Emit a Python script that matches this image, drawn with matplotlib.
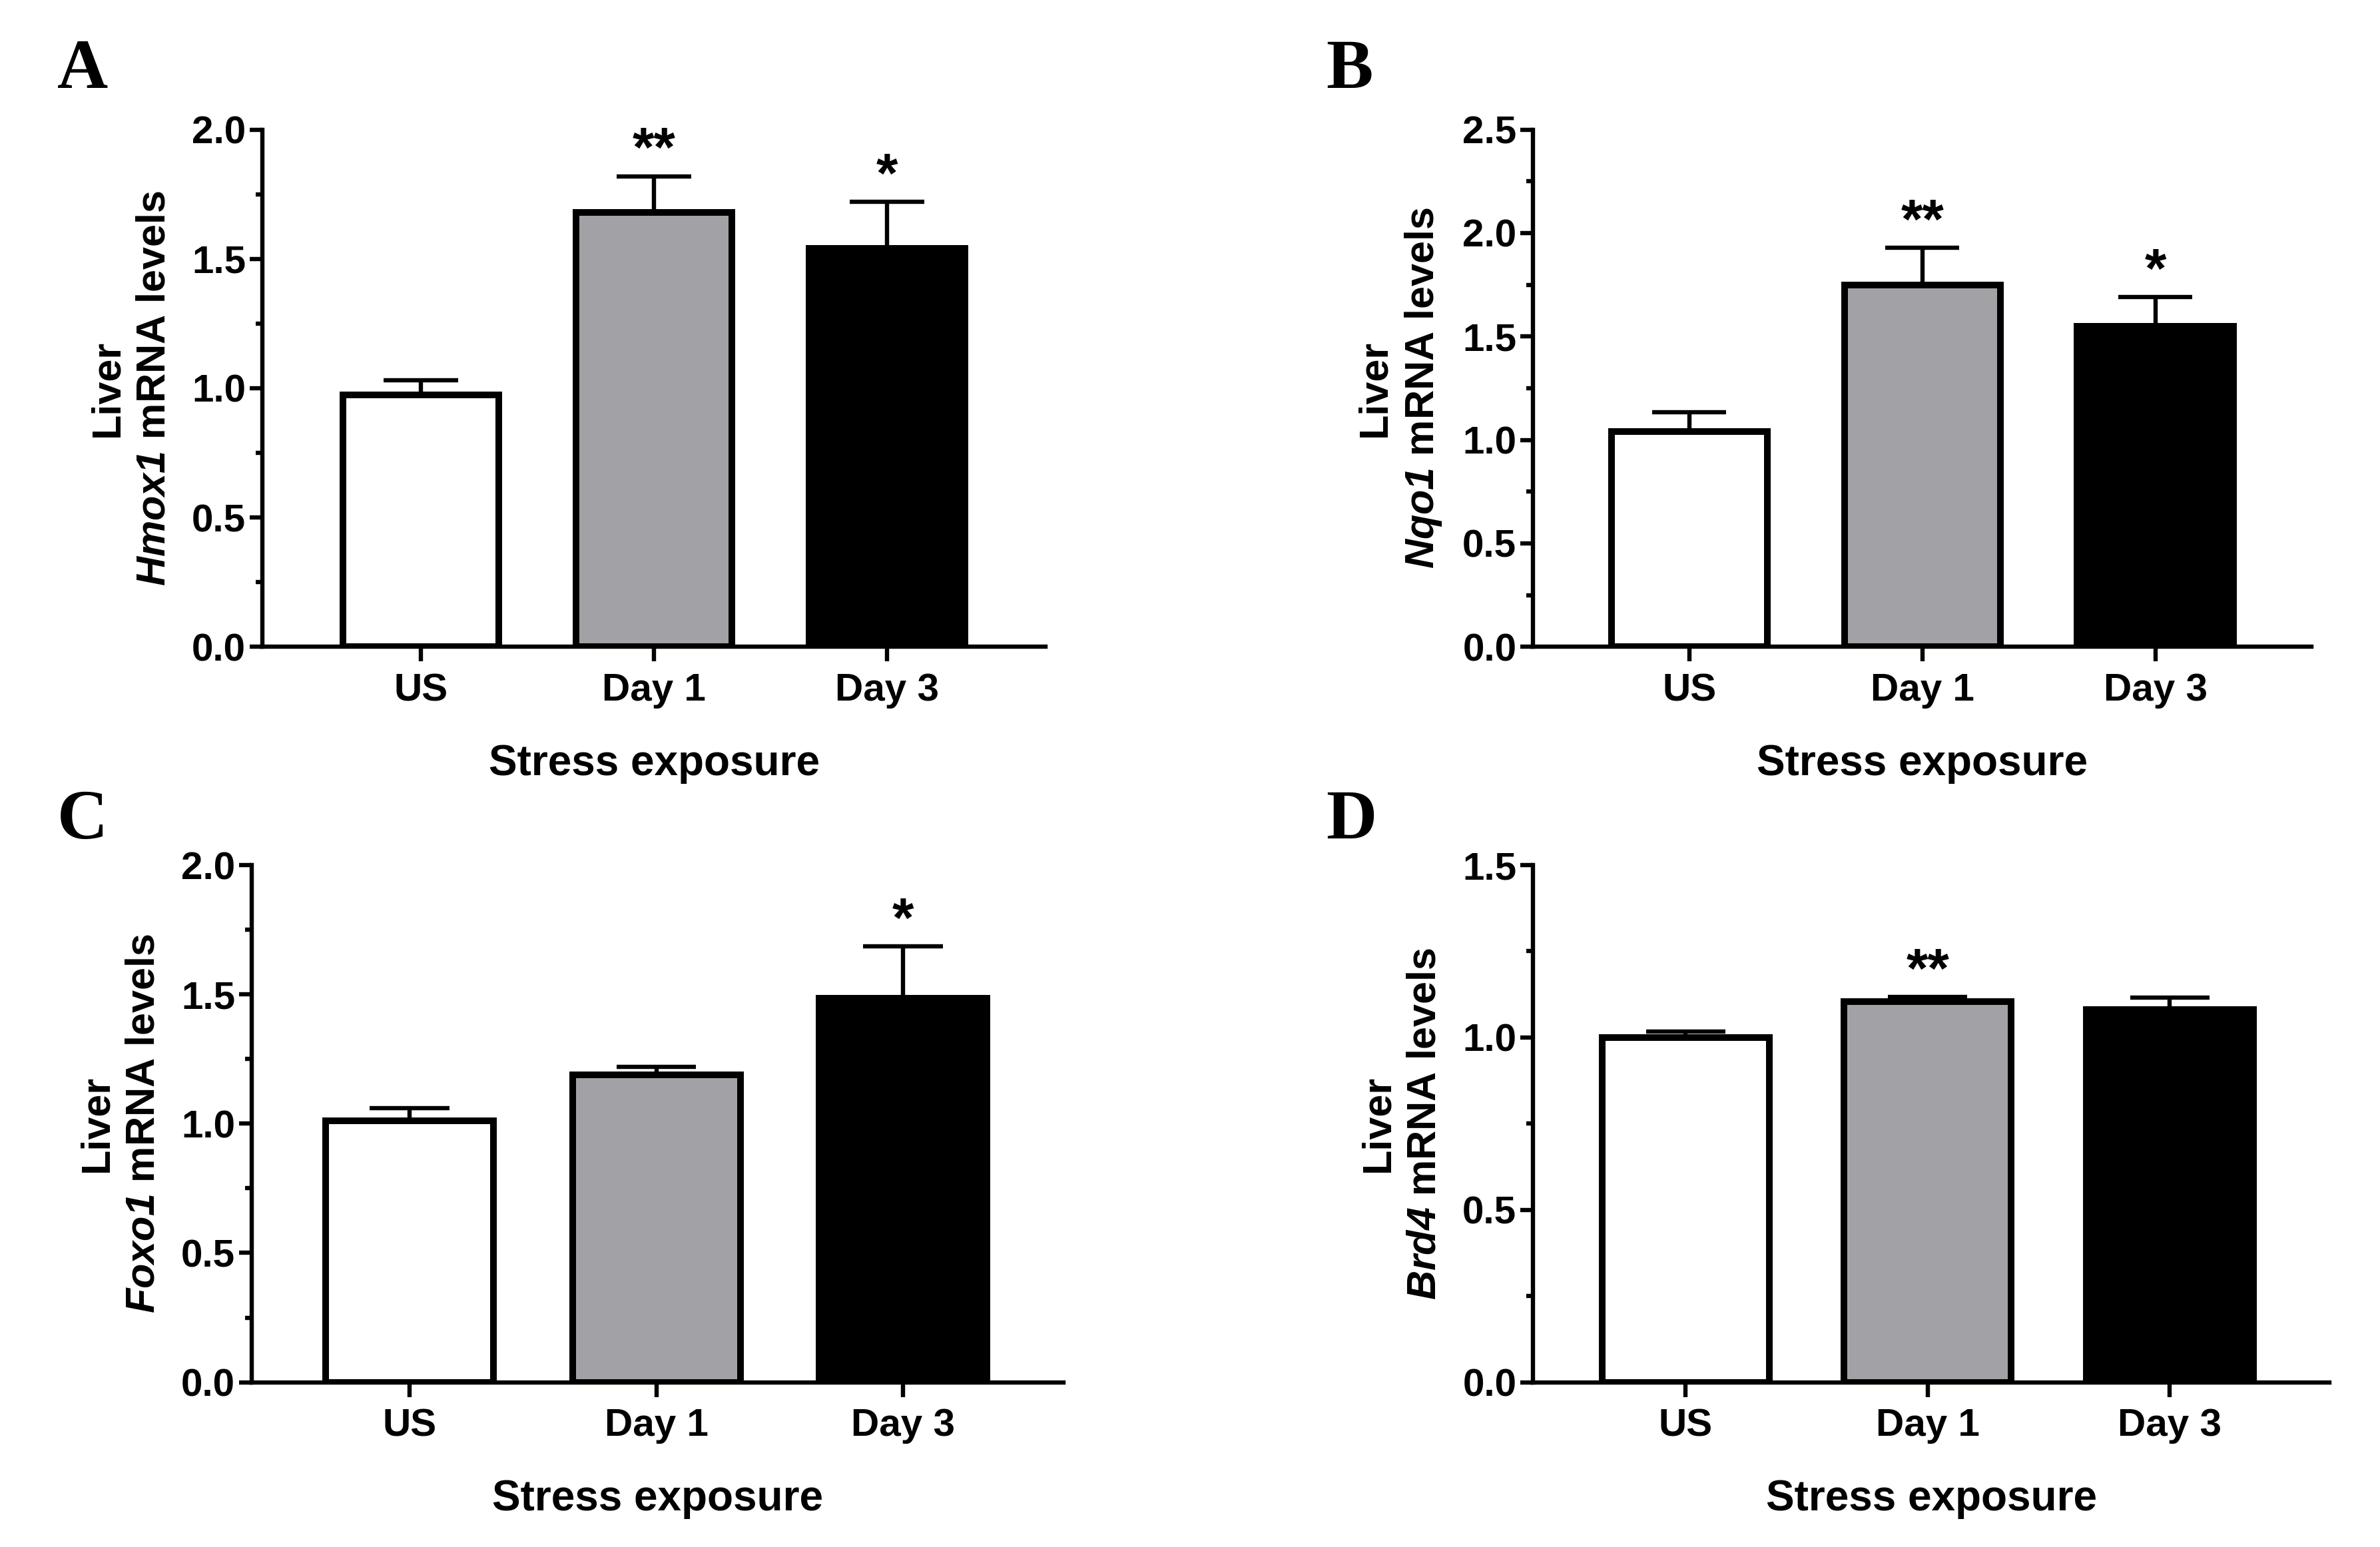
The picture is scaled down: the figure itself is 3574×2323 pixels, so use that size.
import matplotlib
matplotlib.use("Agg")
import matplotlib.pyplot as plt
import numpy as np
from matplotlib.ticker import MultipleLocator, FormatStrFormatter

plt.rcParams['font.family'] = ['Liberation Sans', 'DejaVu Sans']
plt.rcParams['font.weight'] = 'bold'
plt.rcParams['mathtext.fontset'] = 'custom'
plt.rcParams['mathtext.it'] = 'Liberation Sans:italic:bold'
plt.rcParams['mathtext.rm'] = 'Liberation Sans:italic:bold'
plt.rcParams['mathtext.bf'] = 'Liberation Sans:italic:bold'

categories = ["US", "Day 1", "Day 3"]
bar_colors = ["#FFFFFF", "#A2A1A5", "#000000"]

genes = ["Hmox1", "Nqo1", "Foxo1", "Brd4"]
panel_letters = ["A", "B", "C", "D"]

hmox1_mean = [0.975, 1.68, 1.54]
hmox1_sem = [0.055, 0.14, 0.18]
nqo1_mean = [1.04, 1.75, 1.55]
nqo1_sem = [0.095, 0.18, 0.14]
foxo1_mean = [1.01, 1.19, 1.485]
foxo1_sem = [0.05, 0.03, 0.20]
brd4_mean = [1.0, 1.105, 1.08]
brd4_sem = [0.017, 0.013, 0.035]

means = [hmox1_mean, nqo1_mean, foxo1_mean, brd4_mean]
sems = [hmox1_sem, nqo1_sem, foxo1_sem, brd4_sem]
stars = [["", "**", "*"], ["", "**", "*"], ["", "", "*"], ["", "**", ""]]

ymax = [2.0, 2.5, 2.0, 1.5]
ymajor = [0.5, 0.5, 0.5, 0.5]
yminor = [0.25, 0.25, 0.25, 0.25]

fig = plt.figure(figsize=(17.87, 11.615), dpi=200)

# axes rectangles [left, bottom, width, height] in figure fractions
rects = [
    [0.1103, 0.5819, 0.3290, 0.3343],
    [0.6442, 0.5819, 0.3270, 0.3343],
    [0.1058, 0.1065, 0.3410, 0.3343],
    [0.6442, 0.1065, 0.3346, 0.3343],
]
xlims = [(-0.68, 2.68), (-0.67, 2.67), (-0.64, 2.65), (-0.63, 2.66)]
bar_widths = [0.67, 0.67, 0.68, 0.69]
letter_pos = [(0.024, 0.975), (0.557, 0.975), (0.024, 0.49), (0.557, 0.49)]

lw_axis = 2.3
lw_bar = 3.6
lw_err = 2.3

for i in range(4):
    ax = fig.add_axes(rects[i])
    x = np.arange(len(categories))
    w = bar_widths[i]
    m = np.array(means[i])
    s = np.array(sems[i])
    # error bars (upper only)
    ax.vlines(x, m, m + s, color="black", lw=lw_err, zorder=1)
    ax.hlines(m + s, x - 0.475 * w / 2, x + 0.475 * w / 2, color="black", lw=lw_err, zorder=1)
    ax.bar(x, m, width=w, color=bar_colors, edgecolor="black", linewidth=lw_bar, zorder=2)
    for xi, mi, si, st in zip(x, m, s, stars[i]):
        if st:
            ax.annotate(st, (xi, mi + si), xytext=(0, -1), textcoords="offset points",
                        ha="center", va="bottom", fontsize=30, fontweight="bold")
    ax.set_xlim(*xlims[i])
    ax.set_ylim(0, ymax[i])
    ax.yaxis.set_major_locator(MultipleLocator(ymajor[i]))
    ax.yaxis.set_minor_locator(MultipleLocator(yminor[i]))
    ax.yaxis.set_major_formatter(FormatStrFormatter("%.1f"))
    ax.set_xticks(x)
    ax.set_xticklabels(categories)
    for sp in ["top", "right"]:
        ax.spines[sp].set_visible(False)
    for sp in ["left", "bottom"]:
        ax.spines[sp].set_linewidth(lw_axis)
    ax.tick_params(axis="y", which="major", length=7, width=lw_axis, labelsize=21, pad=2)
    ax.tick_params(axis="y", which="minor", length=3.5, width=lw_axis)
    ax.tick_params(axis="x", which="major", length=8, width=lw_axis, labelsize=21, pad=6)
    for lab in ax.get_xticklabels() + ax.get_yticklabels():
        lab.set_fontweight("bold")
    ax.set_xlabel("Stress exposure", fontsize=23, fontweight="bold", labelpad=19)
    ax.set_ylabel("Liver\n$" + genes[i] + "$ mRNA levels", fontsize=22,
                  fontweight="bold", labelpad=10, linespacing=1.3)
    fig.text(letter_pos[i][0], letter_pos[i][1], panel_letters[i], fontsize=38,
             fontweight="bold", family="Liberation Serif", va="top", ha="left")

fig.savefig("out.png", dpi=200, facecolor="white")
